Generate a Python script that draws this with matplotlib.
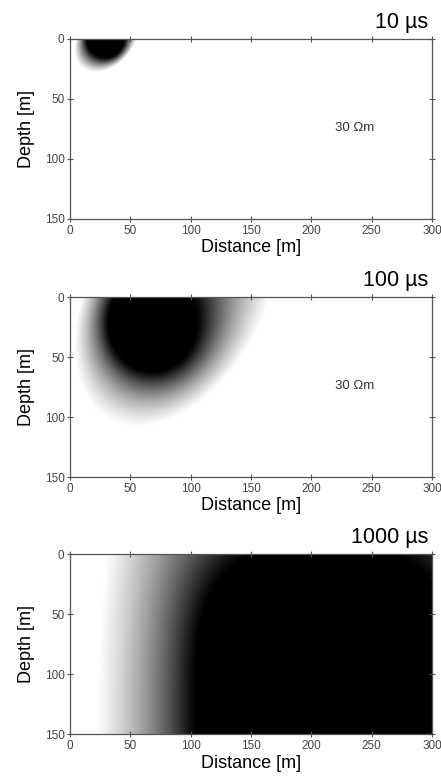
import numpy as np
import matplotlib.pyplot as plt

plt.rcParams['font.family'] = ['Liberation Sans', 'DejaVu Sans']

# time steps of the snapshots
times_us = [10, 100, 1000]
# dark core of the current system (super-ellipse, metres)
core_x = [29, 68, 210]
core_z = [0, 22, 120]
core_rx = [15.5, 36, 106]
core_rz = [16, 40, 125]
core_p = [2, 2, 3]
# outer limit of the gray halo (sheared ellipse, metres)
halo_x = [30, 88, 222]
halo_z = [0, 0, 160]
halo_ax = [25, 78, 200]
halo_az = [28, 108, 600]
halo_shear = [0.32, 0.30, 0.0]
# gray ramp steepness
halo_gamma = [1.4, 1.5, 1.25]
# resistivity label per panel
res_label = ['30 Ωm', '30 Ωm', '']

x_ticks = [0, 50, 100, 150, 200, 250, 300]
z_ticks = [0, 50, 100, 150]

fig = plt.figure(figsize=(4.41, 7.81), dpi=100)
bottoms = [0.7196, 0.3892, 0.0598]

x = np.linspace(0, 300, 601)
z = np.linspace(0, 150, 301)
X, Z = np.meshgrid(x, z)

for i, t in enumerate(times_us):
    ax = fig.add_axes([0.1587, bottoms[i], 0.8209, 0.2305])

    p = core_p[i]
    d_core = (np.abs((X - core_x[i]) / core_rx[i]) ** p
              + np.abs((Z - core_z[i]) / core_rz[i]) ** p) ** (1.0 / p)
    xs = X - halo_x[i] + halo_shear[i] * (Z - halo_z[i])
    d_out = np.sqrt((xs / halo_ax[i]) ** 2 + ((Z - halo_z[i]) / halo_az[i]) ** 2)
    a = np.clip(d_core - 1, 0, None)
    b = np.clip(1 - d_out, 0, None)
    g = np.where(a + b > 0, a / np.maximum(a + b, 1e-9), 1.0)
    g = g ** halo_gamma[i]
    g = np.where(d_out >= 1, 1.0, g)
    g = np.where(d_core <= 1, 0.0, g)

    ax.imshow(g, extent=[0, 300, 150, 0], cmap='gray', vmin=0, vmax=1,
              aspect='auto', interpolation='bilinear')
    ax.set_xlim(0, 300)
    ax.set_ylim(150, 0)
    ax.set_xticks(x_ticks)
    ax.set_yticks(z_ticks)
    ax.tick_params(direction='inout', length=4, width=0.8, color='#555555',
                   labelsize=8.5, labelcolor='#444444', pad=2,
                   top=True, right=True)
    for s in ax.spines.values():
        s.set_color('#555555')
        s.set_linewidth(0.9)

    ax.set_xlabel('Distance [m]', fontsize=13, labelpad=2)
    ax.set_ylabel('Depth [m]', fontsize=13, labelpad=7)
    ax.text(0.99, 1.06, f'{t} µs', transform=ax.transAxes, ha='right',
            va='baseline', fontsize=15.5)
    if res_label[i]:
        ax.text(236, 74, res_label[i], ha='center', va='center', fontsize=9.5,
                color='#333333')

fig.savefig('out.png', dpi=100)
